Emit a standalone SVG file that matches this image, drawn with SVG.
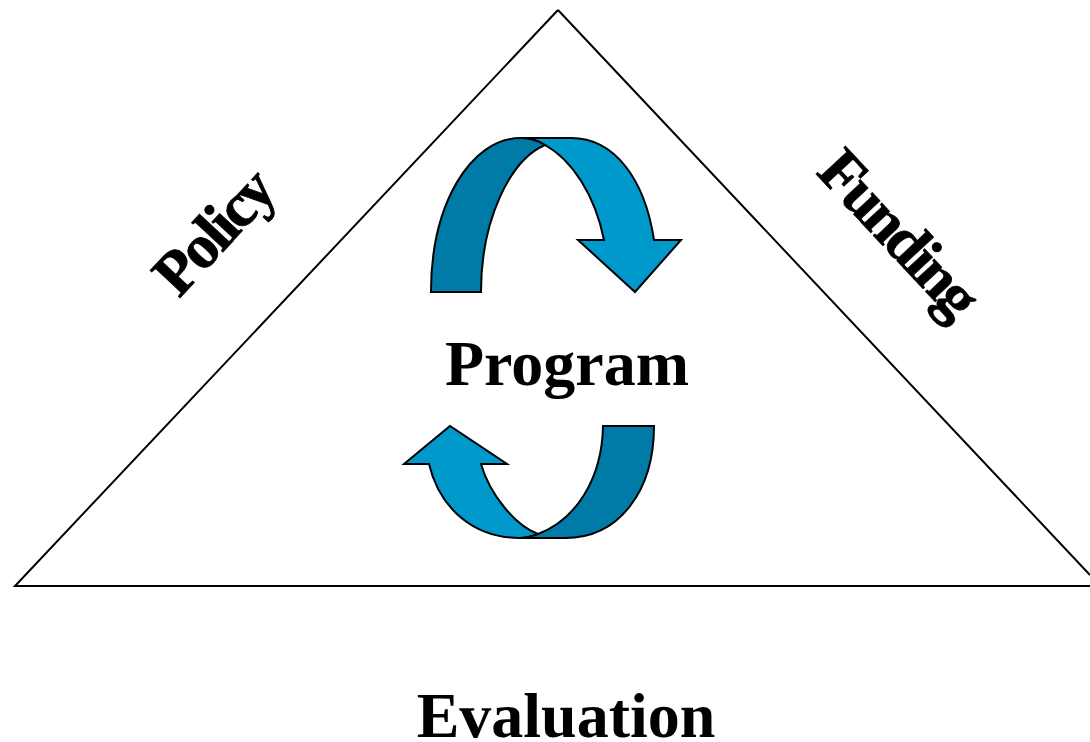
<svg xmlns="http://www.w3.org/2000/svg" width="1090" height="742" viewBox="0 0 1090 742">
<style>
text{font-family:"Liberation Serif","Times New Roman",serif;font-weight:bold;fill:#000}
.dark{fill:#007BA7;stroke:#000;stroke-width:2}
.light{fill:#0099CC;stroke:#000;stroke-width:2}
</style>
<rect width="1090" height="742" fill="#fff"/>
<g id="triangle"><path d="M558 10L1090 575M1090 586H15L558 10" fill="none" stroke="#000" stroke-width="2"/></g>
<g id="arrow-top">
<path class="light" d="M521 138H571C615 138 645 180 654 240H681L635 292L578 240H604C595 195 572 160 545 145C537 140 529 138 521 138Z"/>
<path class="dark" d="M431 292C431 205 470 138 521 138C529 138 537 140 545 145C510 160 481 220 481 292Z"/>
</g>
<g id="arrow-bottom">
<path class="light" d="M565 538H520C475 538 440 510 429 464H404L450 426L507 464H481C490 495 515 525 538 534C530 537 525 538 520 538Z"/>
<path class="dark" d="M654 426C654 490 620 538 565 538H520C528 538 533 536 538 534C575 520 602 480 603 426Z"/>
</g>
<g id="label-program"><text x="567" y="385" font-size="64" text-anchor="middle">Program</text></g>
<g id="label-policy"><text transform="translate(179 299) rotate(-47)" font-size="62" letter-spacing="-3" stroke="#000" stroke-width="0.8">Policy</text></g>
<g id="label-funding"><text transform="translate(815 173) rotate(47)" font-size="62" letter-spacing="-3.2" stroke="#000" stroke-width="0.8">Funding</text></g>
<g id="label-evaluation"><text x="566" y="737" font-size="64" text-anchor="middle">Evaluation</text></g>
</svg>
